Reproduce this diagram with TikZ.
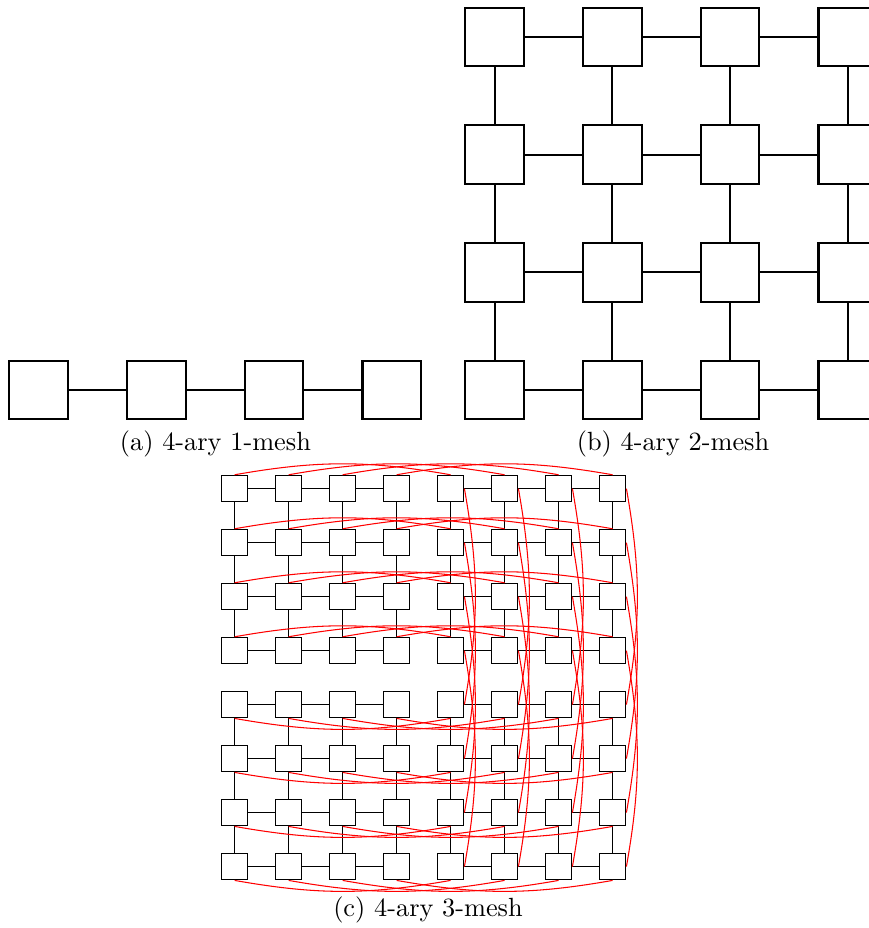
\documentclass[tikz,border=0pt]{standalone}
\begin{document}
\begin{tikzpicture}[x=0.38pt,y=0.38pt,
  bigbox/.style={draw,line width=0.8pt,minimum size=22.3pt,inner sep=0pt},
  smallbox/.style={draw,line width=0.4pt,minimum size=10.1pt,inner sep=0pt},
  bigline/.style={line width=0.8pt},
  smallline/.style={line width=0.4pt},
  redarc/.style={red,line width=0.4pt},
  caption/.style={anchor=base,inner sep=0pt}]
\useasboundingbox (0,0) rectangle (869,928);
\clip (0,0) rectangle (869,928);
% (a) 4-ary 1-mesh
\foreach \i in {0,...,3} \node[bigbox] (a\i) at ({38.7+117.7*\i},538) {};
\foreach \i in {0,1,2} {\pgfmathtruncatemacro\ii{\i+1}\draw[bigline] (a\i) -- (a\ii);}
\node[caption] (capa) at (215.4,477) {(a) 4-ary 1-mesh};
% (b) 4-ary 2-mesh
\foreach \i in {0,...,3} \foreach \j in {0,...,3}
  \node[bigbox] (b-\i-\j) at ({494.7+117.7*\i},{538+117.7*\j}) {};
\foreach \i in {0,1,2} \foreach \j in {0,...,3} {\pgfmathtruncatemacro\ii{\i+1}
  \draw[bigline] (b-\i-\j) -- (b-\ii-\j);
  \draw[bigline] (b-\j-\i) -- (b-\j-\ii);}
\node[caption] (capb) at (673,477) {(b) 4-ary 2-mesh};
% (c) 4-ary 3-mesh
\foreach \i in {0,...,7} \foreach \j in {0,...,7}
  \node[smallbox] (c-\i-\j) at ({234.6+54*\i},{439.4-54*\j}) {};
\foreach \i in {0,1,2,4,5,6} \foreach \j in {0,...,7} {\pgfmathtruncatemacro\ii{\i+1}
  \draw[smallline] (c-\i-\j) -- (c-\ii-\j);
  \draw[smallline] (c-\j-\i) -- (c-\j-\ii);}
\foreach \r in {0,...,3} \foreach \c in {0,...,3} {\pgfmathtruncatemacro\cc{\c+4}
  \draw[redarc] (c-\c-\r.north) to[bend left=10] (c-\cc-\r.north);}
\foreach \r in {4,...,7} \foreach \c in {0,...,3} {\pgfmathtruncatemacro\cc{\c+4}
  \draw[redarc] (c-\c-\r.south) to[bend right=10] (c-\cc-\r.south);}
\foreach \r in {0,...,3} \foreach \c in {4,...,7} {\pgfmathtruncatemacro\rr{\r+4}
  \draw[redarc] (c-\c-\r.east) to[bend left=10] (c-\c-\rr.east);}
\node[caption] (capc) at (428,12) {(c) 4-ary 3-mesh};
\end{tikzpicture}
\end{document}
